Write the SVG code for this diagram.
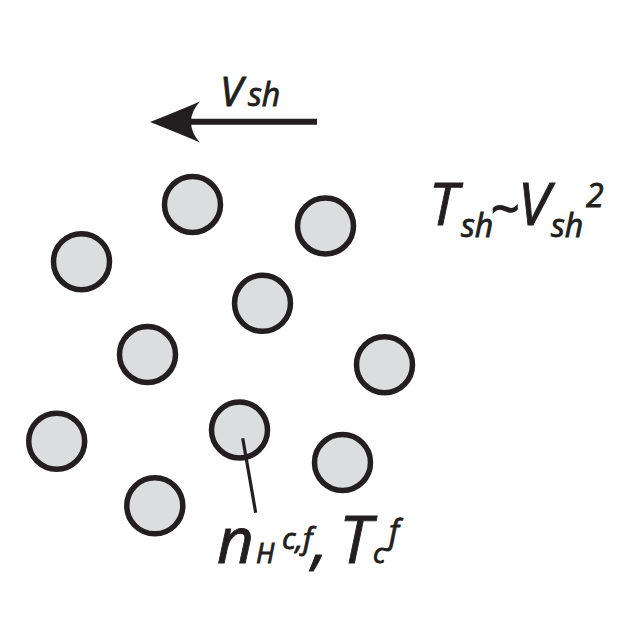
<svg xmlns="http://www.w3.org/2000/svg" width="640" height="639" viewBox="0 0 640 639">
<style>
.p{fill:#dcdddf;stroke:#231f20;stroke-width:5.5}
.t{font-family:"Open Sans","Liberation Sans",sans-serif;font-style:italic;fill:#231f20;stroke:#231f20;stroke-width:0.9}
.ln{stroke:#231f20;fill:none}
</style>
<rect width="640" height="639" fill="#ffffff"/>
<g id="particles">
<g id="p1"><circle class="p" cx="192.5" cy="204.5" r="28"/></g>
<g id="p2"><circle class="p" cx="325.5" cy="226" r="28"/></g>
<g id="p3"><circle class="p" cx="81.5" cy="261.7" r="28"/></g>
<g id="p4"><circle class="p" cx="262.5" cy="303.3" r="28"/></g>
<g id="p5"><circle class="p" cx="147.5" cy="354.5" r="28"/></g>
<g id="p6"><circle class="p" cx="384.5" cy="364.7" r="28"/></g>
<g id="p7"><circle class="p" cx="56.7" cy="441.2" r="28"/></g>
<g id="p8"><circle class="p" cx="239.5" cy="430" r="28"/></g>
<g id="p9"><circle class="p" cx="342.5" cy="462.5" r="28"/></g>
<g id="p10"><circle class="p" cx="154.8" cy="505.8" r="28"/></g>
</g>
<g id="connectors">
<line class="ln" x1="317" y1="121.7" x2="190" y2="121.7" stroke-width="6"/>
<path d="M150,122 Q178,111 200,101.5 Q191,111 191,122 Q191,133 200,142.5 Q178,133 150,122 Z" fill="#231f20"/>
<line class="ln" x1="242.7" y1="438.3" x2="255.7" y2="512.7" stroke-width="3.2"/>
</g>
<g id="label-vsh">
<text class="t"><tspan x="220" y="106" font-size="41">V</tspan><tspan x="248" y="106" font-size="32">sh</tspan></text>
</g>
<g id="label-tsh">
<text class="t"><tspan x="429" y="225" font-size="58">T</tspan><tspan x="461" y="237" font-size="32">sh</tspan><tspan x="490" y="226" font-size="50" stroke-width="1.6">~</tspan><tspan x="518" y="225" font-size="58">V</tspan><tspan x="551" y="237" font-size="32">sh</tspan><tspan x="586" y="207" font-size="32">2</tspan></text>
</g>
<g id="label-nh">
<text class="t"><tspan x="217" y="563" font-size="64">n</tspan><tspan x="256" y="563" font-size="27">H</tspan><tspan x="282" y="549" font-size="30">c,f</tspan><tspan x="312" y="563" font-size="64">,</tspan><tspan x="339" y="563" font-size="65">T</tspan><tspan x="373" y="563" font-size="27">c</tspan><tspan x="389" y="543" font-size="32">f</tspan></text>
</g>
</svg>
